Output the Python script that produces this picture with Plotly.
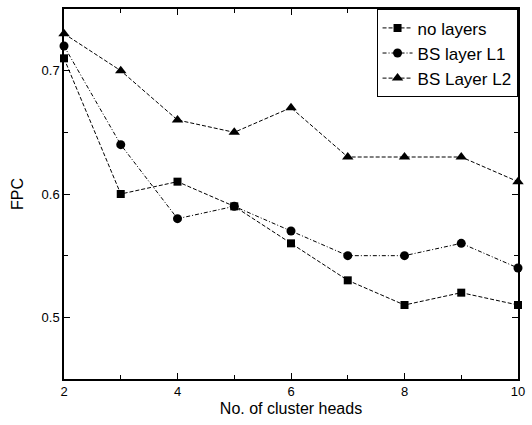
import plotly.graph_objects as go

x_vals = [2, 3, 4, 5, 6, 7, 8, 9, 10]
no_layers = [0.71, 0.60, 0.61, 0.59, 0.56, 0.53, 0.51, 0.52, 0.51]
bs_l1 = [0.72, 0.64, 0.58, 0.59, 0.57, 0.55, 0.55, 0.56, 0.54]
bs_l2 = [0.73, 0.70, 0.66, 0.65, 0.67, 0.63, 0.63, 0.63, 0.61]

fig = go.Figure()
fig.add_trace(go.Scatter(x=x_vals, y=no_layers, name="no layers", mode="lines+markers",
                         line=dict(color="black", width=1, dash="4px,2px"),
                         marker=dict(symbol="square", size=8, color="black"), cliponaxis=False))
fig.add_trace(go.Scatter(x=x_vals, y=bs_l1, name="BS layer L1", mode="lines+markers",
                         line=dict(color="black", width=1, dash="4px,2px,1px,2px"),
                         marker=dict(symbol="circle", size=9, color="black"), cliponaxis=False))
fig.add_trace(go.Scatter(x=x_vals, y=bs_l2, name="BS Layer L2", mode="lines+markers",
                         line=dict(color="black", width=1, dash="4px,2px"),
                         marker=dict(symbol="triangle-up", size=10, color="black"), cliponaxis=False))

axis_common = dict(showline=True, linecolor="black", linewidth=1.5, mirror="allticks",
                   ticks="inside", ticklen=6, tickcolor="black", showgrid=False, zeroline=False,
                   tickfont=dict(family="Liberation Sans, Arial", size=13, color="black"))

fig.update_layout(
    width=532, height=425,
    margin=dict(l=64, r=8, t=7, b=46),
    plot_bgcolor="white", paper_bgcolor="white",
    font=dict(family="Liberation Sans, Arial", color="black"),
    xaxis=dict(range=[2, 10], tickvals=[2, 4, 6, 8, 10],
               minor=dict(tickvals=[3, 5, 7, 9], ticks="inside", ticklen=4, tickcolor="black"),
               title=dict(text="No. of cluster heads", font=dict(size=16), standoff=4),
               **axis_common),
    yaxis=dict(range=[0.45, 0.75], tickvals=[0.5, 0.6, 0.7],
               minor=dict(tickvals=[0.55, 0.65], ticks="inside", ticklen=4, tickcolor="black"),
               title=dict(text="FPC", font=dict(size=16), standoff=14),
               **axis_common),
    legend=dict(x=0.999, y=0.999, xanchor="right", yanchor="top",
                bordercolor="black", borderwidth=1, bgcolor="white",
                font=dict(family="Liberation Sans, Arial", size=17),
                tracegroupgap=0, itemwidth=30),
    showlegend=True,
)

fig.write_html("out.html")
